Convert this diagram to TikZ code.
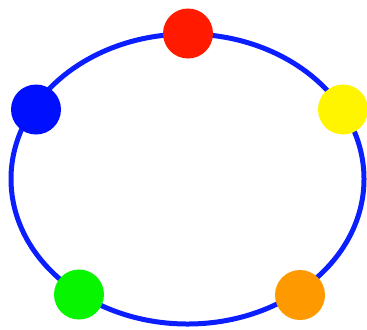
\documentclass[tikz,border=0pt]{standalone}
\usepackage{tikz}
\usetikzlibrary{positioning}
\definecolor{ringBlue}{HTML}{0A1EFF}
\definecolor{dotRed}{HTML}{FF1A00}
\definecolor{dotYellow}{HTML}{FFF500}
\definecolor{dotBlue}{HTML}{0010FF}
\definecolor{dotGreen}{HTML}{08F500}
\definecolor{dotOrange}{HTML}{FF9900}
\begin{document}
\begin{tikzpicture}[x=0.02cm,y=-0.02cm,
  dot/.style={circle,draw=none,inner sep=0pt,minimum size=1cm},
  ring/.style={draw=ringBlue,line width=0.1cm}]
\useasboundingbox (0,0) rectangle (367,329);
% --- ring ---
\draw[ring] (187.5,179) ellipse [x radius=176.5,y radius=145];
% --- dots on the ring ---
\foreach \x/\y/\c/\n in {188/33.5/dotRed/top,343/109.5/dotYellow/right,36/109.5/dotBlue/left,79/294.5/dotGreen/lowleft,300/295/dotOrange/lowright}
  {\node[dot,fill=\c] (\n) at (\x,\y) {};}
\end{tikzpicture}
\end{document}
